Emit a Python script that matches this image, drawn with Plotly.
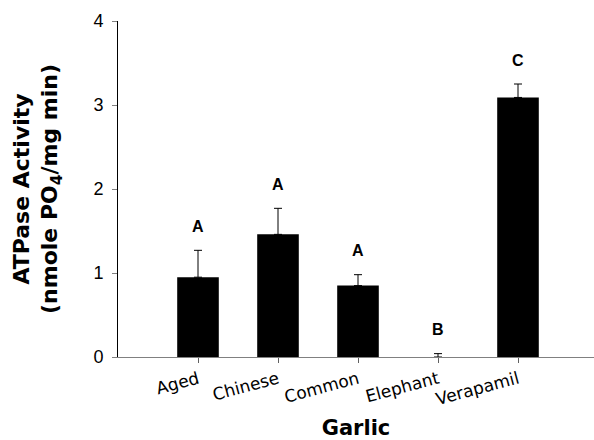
import plotly.graph_objects as go

categories = ["Aged", "Chinese", "Common", "Elephant", "Verapamil"]
activity = [0.95, 1.46, 0.85, 0.0, 3.09]
sem = [0.32, 0.31, 0.13, 0.04, 0.16]
letters = ["A", "A", "A", "B", "C"]
y_ticks = [0, 1, 2, 3, 4]

fig = go.Figure()
fig.add_trace(go.Bar(
    x=categories, y=activity, width=0.52,
    marker=dict(color="black", line=dict(width=0)),
    error_y=dict(type="data", array=sem, arrayminus=[0] * len(sem), symmetric=False,
                 color="black", thickness=1, width=4),
    showlegend=False,
))

for c, v, e, L in zip(categories, activity, sem, letters):
    fig.add_annotation(x=c, y=v + e, text="<b>%s</b>" % L, showarrow=False,
                       yanchor="middle", yshift=24,
                       font=dict(family="Liberation Sans, Arial", size=16, color="black"))

fig.update_layout(
    template="none",
    width=594, height=440,
    margin=dict(l=118, r=0, t=21, b=83, autoexpand=False),
    paper_bgcolor="white", plot_bgcolor="white",
    font=dict(family="Liberation Sans, Arial", color="black"),
    bargap=0.48,
)
fig.update_xaxes(
    range=[-1, 4.95], showline=True, linecolor="#808080", linewidth=1,
    ticks="outside", ticklen=5, tickcolor="#606060", tickangle=-15,
    tickfont=dict(family="DejaVu Sans", size=17, color="black"),
    showgrid=False, zeroline=False, automargin=False,
    title=dict(text="<b>Garlic</b>", standoff=12,
               font=dict(family="DejaVu Sans", size=21, color="black")),
)
fig.update_yaxes(
    range=[0, 4], tickvals=y_ticks, showline=True, linecolor="black", linewidth=1,
    ticks="outside", ticklen=5, tickcolor="#808080", ticklabelstandoff=5,
    tickfont=dict(family="Liberation Sans, Arial", size=18, color="black"),
    showgrid=False, zeroline=False, automargin=False,
    title=dict(text="<b>ATPase Activity<br>(nmole PO<sub>4</sub>/mg min)</b>", standoff=29,
               font=dict(family="DejaVu Sans", size=22, color="black")),
)

fig.write_html("out.html", config={"displayModeBar": False},
               post_script="document.body.style.margin='0';document.body.style.padding='0';")
